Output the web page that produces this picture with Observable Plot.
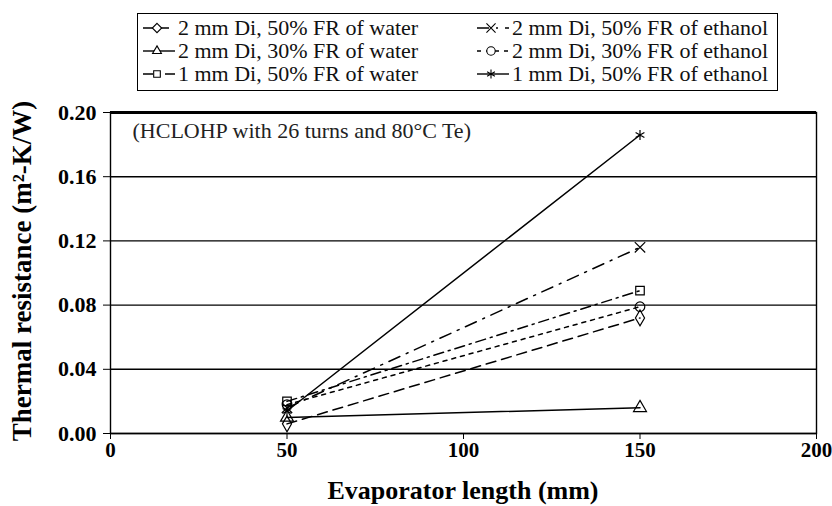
<!DOCTYPE html>
<html>
<head>
<meta charset="utf-8">
<script src="https://cdn.jsdelivr.net/npm/d3@7"></script>
<script src="https://cdn.jsdelivr.net/npm/@observablehq/plot@0.6"></script>
<style>
  body { margin: 0; background: #fff; }
  #wrap { position: relative; width: 832px; height: 506px; font-family: "Liberation Serif", "DejaVu Serif", serif; }
  #legend { position: absolute; left: 137px; top: 13px; width: 639px; height: 76px; border: 1.5px solid #000; background: #fff; box-sizing: content-box; }
  .item { position: absolute; display: flex; align-items: center; font-size: 22px; line-height: 22px; color: #111; white-space: nowrap; }
  .item svg { margin-right: 2px; }
</style>
</head>
<body>
<div id="wrap"><div id="legend"></div></div>
<script>
// ---- data ----
const seriesNames = [
  "2 mm Di, 50% FR of water",
  "2 mm Di, 30% FR of water",
  "1 mm Di, 50% FR of water",
  "2 mm Di, 50% FR of ethanol",
  "2 mm Di, 30% FR of ethanol",
  "1 mm Di, 50% FR of ethanol"
];
const evaporatorLength = [50, 150];
const water2mm50 = [0.006, 0.072];
const water2mm30 = [0.010, 0.016];
const water1mm50 = [0.020, 0.089];
const ethanol2mm50 = [0.016, 0.116];
const ethanol2mm30 = [0.018, 0.079];
const ethanol1mm50 = [0.014, 0.186];
const xTicks = [0, 50, 100, 150, 200];
const yTicks = [0, 0.04, 0.08, 0.12, 0.16, 0.20];
const annotation = "(HCLOHP with 26 turns and 80\u00B0C Te)";

// ---- styles (not data) ----
const symbols = ["diamond", "triangle", "square", "times", "circle", "asterisk"];
const d3Symbols = [d3.symbolDiamond2, d3.symbolTriangle2, d3.symbolSquare2, d3.symbolTimes, d3.symbolCircle, d3.symbolAsterisk];
const dashes = ["10,6", null, "10,5,2,5", "12,7,2,7", "4,5", null];

const values = [water2mm50, water2mm30, water1mm50, ethanol2mm50, ethanol2mm30, ethanol1mm50];
const rows = [];
seriesNames.forEach((s, i) => evaporatorLength.forEach((x, j) => rows.push({series: s, idx: i, x, y: values[i][j]})));

const marks = [
  Plot.gridY(yTicks, {stroke: "#000", strokeOpacity: 1, strokeWidth: 1.4}),
  Plot.frame({stroke: "#000", strokeWidth: 1.4}),
  Plot.ruleY([0.2], {stroke: "#000", strokeWidth: 3}),
  Plot.axisX(xTicks, {tickSize: 6, tickPadding: 3, fontSize: 21, fontWeight: "bold", label: null}),
  Plot.axisY(yTicks, {tickSize: 7, tickPadding: 7, fontSize: 22, fontWeight: "bold", tickFormat: d => d.toFixed(2), label: null}),
  Plot.text([annotation], {frameAnchor: "top-left", dx: 22, dy: 10, fontSize: 22, fontWeight: "normal", fill: "#222", lineAnchor: "top"})
];
seriesNames.forEach((s, i) => {
  const data = rows.filter(r => r.idx === i);
  marks.push(Plot.line(data, {x: "x", y: "y", stroke: "#000", strokeWidth: 1.5, strokeDasharray: dashes[i]}));
  marks.push(Plot.dot(data, {x: "x", y: "y", symbol: () => symbols[i], r: 4.8, stroke: "#000", fill: "none", strokeWidth: 1.2}));
});

const chart = Plot.plot({
  width: 832, height: 506,
  marginLeft: 110, marginRight: 16, marginTop: 112, marginBottom: 73,
  style: {fontFamily: "Liberation Serif", background: "#fff", color: "#000", overflow: "visible"},
  x: {domain: [0, 200], label: null},
  y: {domain: [0, 0.2], label: null},
  marks
});
const wrap = document.getElementById("wrap");
wrap.insertBefore(chart, wrap.firstChild);

// axis titles
const svg = d3.select(chart);
svg.append("text").attr("x", 463).attr("y", 499).attr("text-anchor", "middle")
  .attr("font-size", 26).attr("font-weight", "bold").attr("font-family", "Liberation Serif")
  .text("Evaporator length (mm)");
svg.append("text").attr("transform", "translate(31,271) rotate(-90)").attr("text-anchor", "middle")
  .attr("font-size", 27).attr("font-weight", "bold").attr("font-family", "Liberation Serif")
  .text("Thermal resistance (m\u00B2-K/W)");

// legend
const legend = document.getElementById("legend");
const order = [0, 3, 1, 4, 2, 5];
order.forEach((i, k) => {
  const col = k % 2, row = Math.floor(k / 2);
  const div = document.createElement("div");
  div.className = "item";
  div.style.left = (col === 0 ? 4 : 338) + "px";
  div.style.top = (3 + row * 23) + "px";
  const sw = d3.create("svg").attr("width", 34).attr("height", 16);
  sw.append("line").attr("x1", 1).attr("x2", 33).attr("y1", 8).attr("y2", 8)
    .attr("stroke", "#000").attr("stroke-width", 1.4).attr("stroke-dasharray", dashes[i]);
  sw.append("path").attr("d", d3.symbol(d3Symbols[i], 56)()).attr("transform", "translate(15,8)")
    .attr("fill", d3Symbols[i] === d3.symbolTimes || d3Symbols[i] === d3.symbolAsterisk ? "none" : "#fff")
    .attr("stroke", "#000").attr("stroke-width", 1.1);
  div.appendChild(sw.node());
  const t = document.createElement("span");
  t.textContent = seriesNames[i];
  div.appendChild(t);
  legend.appendChild(div);
});
</script>
</body>
</html>
